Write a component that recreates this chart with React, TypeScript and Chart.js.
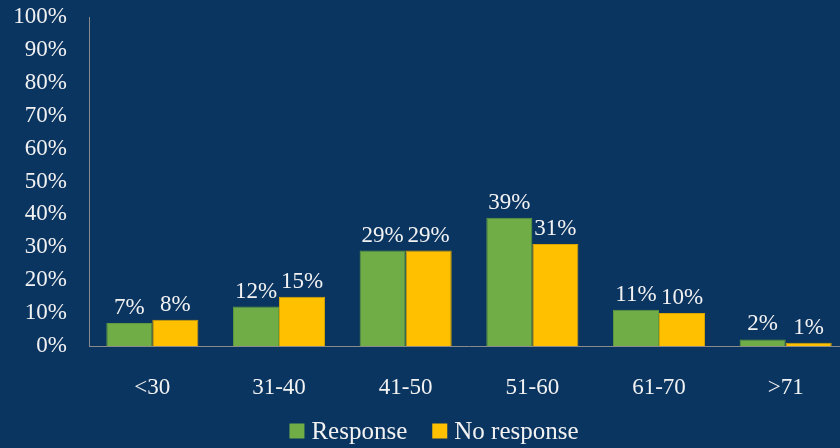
import React, { useEffect, useRef } from "react";
import { Chart, registerables } from "chart.js";

Chart.register(...registerables);

const ageGroups = ["<30", "31-40", "41-50", "51-60", "61-70", ">71"];
const responseValues = [7, 12, 29, 39, 11, 2];
const noResponseValues = [8, 15, 29, 31, 10, 1];
const yTicks = [0, 10, 20, 30, 40, 50, 60, 70, 80, 90, 100];

const VIEW_W = 840;
const VIEW_H = 448;
// the plot runs slightly past the visible right edge
const CANVAS_W = 849;

const BG = "#0b3561";
const TEXT = "#f2f2f2";
const FONT = "'Liberation Serif', 'DejaVu Serif', serif";

// Percent value written above every bar
const valueLabels = {
  id: "valueLabels",
  afterDatasetsDraw(chart: any) {
    const ctx = chart.ctx;
    ctx.save();
    ctx.fillStyle = TEXT;
    ctx.font = `23px ${FONT}`;
    ctx.textAlign = "center";
    ctx.textBaseline = "alphabetic";
    chart.data.datasets.forEach((ds: any, i: number) => {
      const meta = chart.getDatasetMeta(i);
      meta.data.forEach((bar: any, j: number) => {
        ctx.fillText(`${ds.data[j]}%`, bar.x, bar.y - 9);
      });
    });
    ctx.restore();
  },
};

// Legend row under the axis: colour square followed by series name
const bottomLegend = {
  id: "bottomLegend",
  afterDraw(chart: any) {
    const ctx = chart.ctx;
    const box = 15;
    const boxGap = 7;
    const itemGap = 25;
    ctx.save();
    ctx.font = `25px ${FONT}`;
    ctx.textBaseline = "middle";
    ctx.textAlign = "left";
    const items = chart.data.datasets.map((ds: any) => ({
      label: ds.label,
      color: ds.backgroundColor,
      w: box + boxGap + ctx.measureText(ds.label).width,
    }));
    const total =
      items.reduce((s: number, it: any) => s + it.w, 0) + itemGap * (items.length - 1);
    let x = VIEW_W / 2 + 14 - total / 2;
    const cy = chart.height - 17;
    items.forEach((it: any) => {
      ctx.fillStyle = it.color;
      ctx.fillRect(x, cy - box / 2, box, box);
      ctx.fillStyle = TEXT;
      ctx.fillText(it.label, x + box + boxGap, cy + 1);
      x += it.w + itemGap;
    });
    ctx.restore();
  },
};

const background = {
  id: "background",
  beforeDraw(chart: any) {
    const ctx = chart.ctx;
    ctx.save();
    ctx.fillStyle = BG;
    ctx.fillRect(0, 0, chart.width, chart.height);
    ctx.restore();
  },
};

export default function App() {
  const ref = useRef<HTMLCanvasElement>(null);

  useEffect(() => {
    document.body.style.margin = "0";
    document.body.style.background = BG;
    const chart = new Chart(ref.current!, {
      type: "bar",
      data: {
        labels: ageGroups,
        datasets: [
          {
            label: "Response",
            data: responseValues,
            backgroundColor: "#70ad47",
            borderColor: "#5f9a3c",
            borderWidth: 1,
          },
          {
            label: "No response",
            data: noResponseValues,
            backgroundColor: "#ffc000",
            borderColor: "#d9a400",
            borderWidth: 1,
          },
        ],
      },
      options: {
        animation: false,
        responsive: false,
        maintainAspectRatio: false,
        layout: { padding: { top: 17, right: 0, left: 0, bottom: 42 } },
        datasets: {
          bar: { categoryPercentage: 0.727, barPercentage: 1 },
        },
        scales: {
          x: {
            afterFit: (scale: any) => {
              scale.height = 60;
              scale.paddingRight = 0;
              scale.paddingLeft = 0;
            },
            grid: { display: false, drawTicks: false },
            border: { display: true, color: "#8a8a8a", width: 1 },
            ticks: {
              color: TEXT,
              font: { family: FONT, size: 23 },
              padding: 28,
            },
          },
          y: {
            min: 0,
            max: 100,
            afterBuildTicks: (scale: any) => {
              scale.ticks = yTicks.map((v) => ({ value: v }));
            },
            afterFit: (scale: any) => {
              scale.width = 89;
              scale.paddingTop = 0;
              scale.paddingBottom = 0;
            },
            grid: { display: false, drawTicks: false },
            border: { display: true, color: "#8a8a8a", width: 1 },
            ticks: {
              color: TEXT,
              font: { family: FONT, size: 23 },
              padding: 22,
              autoSkip: false,
              callback: (v: any) => `${v}%`,
            },
          },
        },
        plugins: {
          legend: { display: false },
          tooltip: { enabled: false },
        },
      },
      plugins: [background, valueLabels, bottomLegend],
    });
    return () => chart.destroy();
  }, []);

  return (
    <div style={{ width: VIEW_W, height: VIEW_H, overflow: "hidden", background: BG }}>
      <canvas ref={ref} width={CANVAS_W} height={VIEW_H} style={{ display: "block" }} />
    </div>
  );
}
